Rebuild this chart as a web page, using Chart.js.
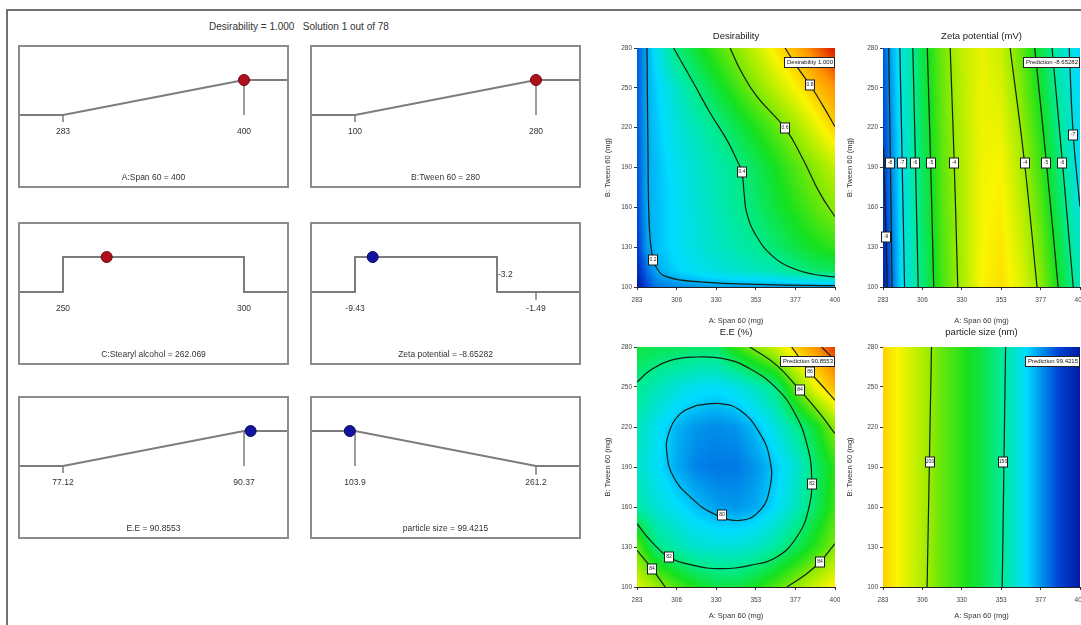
<!DOCTYPE html>
<html lang="en">
<head>
<meta charset="utf-8">
<title>Desirability ramps and contour plots</title>
<script src="https://cdn.jsdelivr.net/npm/chart.js@4.4.1/dist/chart.umd.min.js"></script>
<style>
  html, body { margin: 0; padding: 0; background: #fff; }
  body { position: relative; width: 1081px; height: 625px; overflow: hidden; font-family: 'Liberation Sans', Arial, sans-serif; }
  canvas { position: absolute; display: block; }
  .rule { position: absolute; background: #707070; }
  #solutionTitle { position: absolute; left: 99px; width: 400px; top: 21px; text-align: center; font-size: 10px; color: #333; white-space: pre; }
</style>
</head>
<body>
<div class="rule" style="left:6px;top:9px;width:2px;height:616px"></div>
<div class="rule" style="left:6px;top:9px;width:1075px;height:2px"></div>
<div id="solutionTitle">Desirability = 1.000   Solution 1 out of 78</div>

<script>
// ---- ramps (left side) ----
const rampNames = ['A:Span 60', 'B:Tween 60', 'C:Stearyl alcohol', 'Zeta potential', 'E.E', 'particle size'];
const rampGoals = ['maximize', 'maximize', 'in range', 'in range', 'maximize', 'minimize'];
const rampLow = [283, 100, 250, -9.43, 77.12, 103.9];
const rampHigh = [400, 280, 300, -1.49, 90.37, 261.2];
const rampLowText = ['283', '100', '250', '-9.43', '77.12', '103.9'];
const rampHighText = ['400', '280', '300', '-1.49', '90.37', '261.2'];
const rangeUpper = [null, null, 300, -3.2, null, null];
const rangeUpperText = ['', '', '', '-3.2', '', ''];
const solution = [400, 280, 262.069, -8.65282, 90.8553, 99.4215];
const solutionText = ['400', '280', '262.069', '-8.65282', '90.8553', '99.4215'];
const solutionDesirability = [1, 1, 1, 1, 1, 1];
const isFactor = [true, true, true, false, false, false];

// ---- contour plots (right side) ----
const spanTicks = [283, 306.4, 329.8, 353.2, 376.6, 400];
const spanTickLabels = ['283', '306', '330', '353', '377', '400'];
const tweenTicks = [100, 130, 160, 190, 220, 250, 280];
const gridX = [283, 294.7, 306.4, 318.1, 329.8, 341.5, 353.2, 364.9, 376.6, 388.3, 400];

// desirability surface, rows from B=280 (top) down to B=100
const desGridX = [283, 289, 294.7, 306.4, 318.1, 329.8, 341.5, 353.2, 364.9, 376.6, 388.3, 400];
const desGridY = [280, 250, 220, 190, 160, 130, 112, 100];
const desLevels = [
  [0.12, 0.20, 0.27, 0.41, 0.48, 0.55, 0.62, 0.69, 0.77, 0.84, 0.92, 1.00],
  [0.12, 0.20, 0.24, 0.32, 0.40, 0.47, 0.54, 0.61, 0.68, 0.75, 0.82, 0.88],
  [0.12, 0.20, 0.23, 0.29, 0.34, 0.39, 0.45, 0.51, 0.57, 0.64, 0.72, 0.80],
  [0.11, 0.20, 0.22, 0.27, 0.31, 0.35, 0.39, 0.44, 0.50, 0.56, 0.62, 0.68],
  [0.10, 0.20, 0.22, 0.26, 0.30, 0.34, 0.38, 0.42, 0.47, 0.52, 0.57, 0.62],
  [0.08, 0.19, 0.22, 0.26, 0.29, 0.32, 0.35, 0.38, 0.42, 0.46, 0.50, 0.53],
  [0.05, 0.14, 0.20, 0.24, 0.27, 0.29, 0.31, 0.33, 0.35, 0.39, 0.42, 0.44],
  [0.02, 0.10, 0.15, 0.17, 0.18, 0.19, 0.19, 0.19, 0.19, 0.19, 0.19, 0.19]
];
const desContours = [
  [[288.9, 280], [289.5, 200.7], [290.1, 150.4], [291.8, 125.2], [294.8, 113.9], [300.7, 107.6], [320.4, 103.8], [359.7, 101.8], [400, 101]],
  [[304.6, 280], [316.4, 253.6], [326.3, 230.9], [336.1, 210.8], [342, 195.7], [344.9, 186.9], [346.3, 170.5], [347.9, 155.4], [353.8, 137.8], [363.6, 122.7], [375.4, 113.9], [387.2, 109.6], [400, 107.6]],
  [[338, 280], [344, 263.6], [353.8, 243.5], [370.5, 219.6], [381.3, 195.7], [391.1, 170.5], [400, 152.9]],
  [[370.5, 280], [378, 265], [385.2, 252.3], [393.1, 236], [400, 220.8]]
];
const desLabels = [[292.6, 120, '0.2'], [344.9, 186.9, '0.4'], [370.5, 219.6, '0.6'], [385.2, 252.3, '0.8']];

// zeta potential surface
const zetaGridY = [280, 190, 100];
const zetaLevels = [
  [0.12, 0.30, 0.46, 0.59, 0.68, 0.73, 0.69, 0.58, 0.46, 0.33, 0.24],
  [0.08, 0.28, 0.43, 0.57, 0.66, 0.74, 0.75, 0.66, 0.54, 0.40, 0.26],
  [0.03, 0.27, 0.41, 0.55, 0.65, 0.75, 0.78, 0.72, 0.62, 0.48, 0.34]
];
const zetaContours = [
  [[283.2, 205.7], [284.8, 137.8], [285.6, 100]],
  [[286.4, 280], [287.4, 193.2], [288.4, 100]],
  [[293, 280], [294.4, 193.2], [295.8, 100]],
  [[300.7, 280], [302.3, 193.2], [303.9, 100]],
  [[309.3, 280], [311.3, 193.2], [313.1, 100]],
  [[322.9, 280], [325.3, 193.2], [327.4, 100]],
  [[358.5, 280], [367.1, 193.2], [374.5, 100]],
  [[373.1, 280], [380.1, 193.2], [387, 100]],
  [[383.4, 280], [389.6, 193.2], [396, 100]],
  [[393.6, 280], [396, 214.6], [400, 160.4]]
];
const zetaLabels = [[284.8, 137.8, '-9'], [287.4, 193.2, '-8'], [294.4, 193.2, '-7'], [302.3, 193.2, '-6'], [311.3, 193.2, '-5'],
  [325.3, 193.2, '-4'], [367.1, 193.2, '-4'], [380.1, 193.2, '-5'], [389.6, 193.2, '-6'], [396, 214.6, '-7']];

// entrapment efficiency surface
const eeGridY = [280, 250, 220, 190, 160, 130, 100];
const eeLevels = [
  [0.47, 0.45, 0.44, 0.43, 0.43, 0.53, 0.62, 0.70, 0.81, 0.88, 0.97],
  [0.39, 0.34, 0.30, 0.27, 0.26, 0.28, 0.33, 0.40, 0.58, 0.74, 0.84],
  [0.34, 0.27, 0.21, 0.18, 0.17, 0.18, 0.22, 0.29, 0.38, 0.48, 0.62],
  [0.32, 0.26, 0.20, 0.16, 0.15, 0.15, 0.18, 0.23, 0.30, 0.42, 0.52],
  [0.36, 0.30, 0.26, 0.22, 0.19, 0.18, 0.20, 0.25, 0.33, 0.43, 0.54],
  [0.58, 0.40, 0.35, 0.31, 0.30, 0.30, 0.32, 0.37, 0.44, 0.52, 0.61],
  [0.72, 0.64, 0.56, 0.50, 0.46, 0.46, 0.50, 0.56, 0.63, 0.70, 0.76]
];
const eeContours = [
  [[318.4, 236.25], [308.6, 230], [301.7, 215], [300.7, 200], [304.6, 182.5], [314.5, 167.5], [328.2, 155], [343.9, 150],
   [355.7, 157.5], [361.6, 175], [361.6, 195], [355.7, 215], [343.9, 232.5], [332.2, 237.5], [318.4, 236.25]],
  [[283, 253.75], [290.9, 262.5], [302.7, 270], [318.4, 272.5], [334.1, 271.25], [349.8, 263.75], [365.6, 248.75], [376.4, 230],
   [383.3, 207.5], [386.2, 182.5], [384.2, 157.5], [377.4, 137.5], [365.6, 122.5], [349.8, 116.25], [332.2, 113.75],
   [316.4, 116.25], [301.7, 122.5], [290.9, 135], [283, 147.5]],
  [[349.8, 280], [365.6, 266.25], [379.3, 247.5], [391.1, 230], [400, 215]],
  [[283, 127.5], [291.8, 113.75], [299.7, 100]],
  [[371.5, 100], [383.3, 110], [391.1, 118.75], [400, 132.5]],
  [[374.4, 280], [385.2, 261.25], [393.1, 250], [400, 240]],
  [[392.1, 280], [400, 270]]
];
const eeLabels = [[333, 154, '80'], [301.7, 122.5, '82'], [386.2, 177.5, '82'], [379.3, 247.5, '84'],
  [291.8, 113.75, '84'], [391.1, 118.75, '84'], [385.2, 261.25, '86']];

// particle size surface
const sizeGridY = [280, 100];
const sizeLevels = [
  [0.80, 0.73, 0.66, 0.58, 0.52, 0.46, 0.38, 0.28, 0.18, 0.09, 0.03],
  [0.80, 0.73, 0.66, 0.58, 0.52, 0.46, 0.38, 0.28, 0.18, 0.09, 0.03]
];
const sizeContours = [
  [[311.8, 280], [309.2, 100]],
  [[355.8, 280], [353.8, 100]]
];
const sizeLabels = [[310.8, 193.75, '200'], [354.4, 193.75, '150']];

const flagTexts = ['Desirability 1.000', 'Prediction -8.65282', 'Prediction 90.8553', 'Prediction 99.4215'];

// ---- styling ----
const FONT = "'Liberation Sans', Arial, sans-serif";
Chart.defaults.font.family = FONT;
Chart.defaults.color = '#333';

const colorStops = [
  [0.00, [0, 8, 140]],
  [0.10, [0, 70, 215]],
  [0.25, [0, 220, 255]],
  [0.38, [0, 235, 150]],
  [0.50, [20, 225, 30]],
  [0.63, [150, 235, 0]],
  [0.75, [250, 245, 0]],
  [0.88, [255, 150, 0]],
  [1.00, [220, 20, 0]]
];

function levelColor(v) {
  v = Math.max(0, Math.min(1, v));
  for (let k = 0; k < colorStops.length - 1; k++) {
    const [a, ca] = colorStops[k], [b, cb] = colorStops[k + 1];
    if (v <= b) {
      const t = (v - a) / (b - a);
      return [0, 1, 2].map(c => Math.round(ca[c] + (cb[c] - ca[c]) * t));
    }
  }
  return colorStops[colorStops.length - 1][1];
}

function locate(arr, v) {
  for (let k = 0; k < arr.length - 1; k++) {
    const t = (v - arr[k]) / (arr[k + 1] - arr[k]);
    if (t <= 1 || k === arr.length - 2) return [k, Math.max(0, Math.min(1, t))];
  }
}

function sampleGrid(xs, ys, rows, xv, yv) {
  const [i, tx] = locate(xs, xv);
  const [j, ty] = locate(ys, yv);
  const top = rows[j][i] * (1 - tx) + rows[j][i + 1] * tx;
  const bot = rows[j + 1][i] * (1 - tx) + rows[j + 1][i + 1] * tx;
  return top * (1 - ty) + bot * ty;
}

function makeCanvas(left, top, w, h) {
  const c = document.createElement('canvas');
  c.width = w; c.height = h;
  c.style.left = left + 'px'; c.style.top = top + 'px';
  c.style.width = w + 'px'; c.style.height = h + 'px';
  document.body.appendChild(c);
  return c;
}

// ---- ramp boxes ----
const RAMP_W = 271, RAMP_H = 143, RAMP_MARGIN = 45 / 181;
const RAMP_YMAX = 2, RAMP_YMIN = -73 / 35;
const RAMP_GREY = '#7c7c7c';
const rampBoxes = [[18, 45], [310, 45], [18, 222], [310, 222], [18, 396], [310, 396]];

function rampShape(i) {
  const lo = rampLow[i], hi = rampHigh[i], m = (hi - lo) * RAMP_MARGIN;
  const xmin = lo - m, xmax = hi + m, up = rangeUpper[i];
  if (rampGoals[i] === 'maximize') {
    return { xmin, xmax, path: [[xmin, 0], [lo, 0], [hi, 1], [xmax, 1]], marks: [[lo, 0, -0.2], [hi, 1, 0]] };
  }
  if (rampGoals[i] === 'minimize') {
    return { xmin, xmax, path: [[xmin, 1], [lo, 1], [hi, 0], [xmax, 0]], marks: [[lo, 1, 0], [hi, 0, -0.25]] };
  }
  return { xmin, xmax, path: [[xmin, 0], [lo, 0], [lo, 1], [up, 1], [up, 0], [xmax, 0]], marks: up < hi ? [[hi, 0, -0.22]] : [] };
}

function rampTextPlugin(i) {
  return {
    id: 'rampText' + i,
    afterDraw(chart) {
      const { ctx, scales: { x, y } } = chart;
      ctx.save();
      ctx.strokeStyle = '#8c8c8c';
      ctx.lineWidth = 2;
      ctx.strokeRect(1, 1, chart.width - 2, chart.height - 2);
      ctx.fillStyle = '#333';
      ctx.font = '8.5px ' + FONT;
      ctx.textAlign = 'center';
      ctx.textBaseline = 'middle';
      const ty = y.getPixelForValue(0) + 17;
      ctx.fillText(rampLowText[i], x.getPixelForValue(rampLow[i]), ty);
      ctx.fillText(rampHighText[i], x.getPixelForValue(rampHigh[i]), ty);
      if (rangeUpper[i] !== null && rangeUpper[i] < rampHigh[i]) {
        ctx.textAlign = 'left';
        ctx.fillText(rangeUpperText[i], x.getPixelForValue(rangeUpper[i]) + 1, y.getPixelForValue(0.5));
        ctx.textAlign = 'center';
      }
      ctx.fillText(rampNames[i] + ' = ' + solutionText[i], chart.width / 2, chart.height - 10);
      ctx.restore();
    }
  };
}

rampNames.forEach((name, i) => {
  const [left, top] = rampBoxes[i];
  const canvas = makeCanvas(left, top, RAMP_W, RAMP_H);
  const shape = rampShape(i);
  const dotFill = isFactor[i] ? '#b0101c' : '#12139e';
  const dotEdge = isFactor[i] ? '#6e0810' : '#0a0a60';
  new Chart(canvas, {
    type: 'scatter',
    data: {
      datasets: [
        { data: [{ x: solution[i], y: solutionDesirability[i] }], pointRadius: 5.5, pointBackgroundColor: dotFill,
          pointBorderColor: dotEdge, pointBorderWidth: 1, clip: false },
        { data: shape.path.map(([x, y]) => ({ x, y })), showLine: true, borderColor: RAMP_GREY, borderWidth: 2, pointRadius: 0 },
        ...shape.marks.map(([x, y0, y1]) => ({ data: [{ x, y: y0 }, { x, y: y1 }], showLine: true,
          borderColor: RAMP_GREY, borderWidth: 1.5, pointRadius: 0 }))
      ]
    },
    options: {
      responsive: false, animation: false, events: [],
      layout: { padding: 0, autoPadding: false },
      plugins: { legend: { display: false }, tooltip: { enabled: false } },
      scales: {
        x: { type: 'linear', min: shape.xmin, max: shape.xmax, display: false },
        y: { type: 'linear', min: RAMP_YMIN, max: RAMP_YMAX, display: false }
      }
    },
    plugins: [rampTextPlugin(i)]
  });
});

// ---- contour charts ----
function contourChart(spec, L) {
  const canvas = makeCanvas(L.left, L.top, L.width, L.height);
  const heat = {
    id: 'heat',
    beforeDatasetsDraw(chart) {
      const { ctx, chartArea: a, scales: { x, y } } = chart;
      const w = Math.round(a.right - a.left), h = Math.round(a.bottom - a.top);
      const off = document.createElement('canvas');
      off.width = w; off.height = h;
      const octx = off.getContext('2d');
      const img = octx.createImageData(w, h);
      for (let j = 0; j < h; j++) {
        const yv = y.getValueForPixel(a.top + j + 0.5);
        for (let i = 0; i < w; i++) {
          const xv = x.getValueForPixel(a.left + i + 0.5);
          const c = levelColor(sampleGrid(spec.gx, spec.gy, spec.levels, xv, yv));
          const k = (j * w + i) * 4;
          img.data[k] = c[0]; img.data[k + 1] = c[1]; img.data[k + 2] = c[2]; img.data[k + 3] = 255;
        }
      }
      octx.putImageData(img, 0, 0);
      ctx.drawImage(off, a.left, a.top);
    }
  };
  const marks = {
    id: 'contourMarks',
    afterDatasetsDraw(chart) {
      const { ctx, scales: { x, y } } = chart;
      ctx.save();
      ctx.font = '5px ' + FONT;
      ctx.textAlign = 'center';
      ctx.textBaseline = 'middle';
      ctx.lineWidth = 1;
      spec.labels.forEach(([lx, ly, t]) => {
        const px = Math.round(x.getPixelForValue(lx)), py = Math.round(y.getPixelForValue(ly));
        ctx.fillStyle = '#fff';
        ctx.fillRect(px - 4.5, py - 5, 9, 10);
        ctx.strokeStyle = '#1a1a1a';
        ctx.strokeRect(px - 4.5, py - 5, 9, 10);
        ctx.fillStyle = '#222';
        ctx.fillText(t, px, py);
      });
      // prediction flag anchored at the optimum
      ctx.font = '6px ' + FONT;
      const fx = x.getPixelForValue(solution[0]), fy = y.getPixelForValue(solution[1]);
      const tw = ctx.measureText(spec.flag).width + 5;
      ctx.fillStyle = '#fff';
      ctx.fillRect(Math.round(fx - tw) + 0.5, Math.round(fy + 9) + 0.5, Math.round(tw) - 1, 10);
      ctx.strokeStyle = '#222';
      ctx.strokeRect(Math.round(fx - tw) + 0.5, Math.round(fy + 9) + 0.5, Math.round(tw) - 1, 10);
      ctx.fillStyle = '#111';
      ctx.textAlign = 'left';
      ctx.fillText(spec.flag, Math.round(fx - tw) + 3, Math.round(fy + 9) + 5.5);
      ctx.restore();
    }
  };
  const tickFont = { size: 6.5, family: FONT };
  return new Chart(canvas, {
    type: 'scatter',
    data: {
      datasets: spec.lines.map(pts => ({
        data: pts.map(([x, y]) => ({ x, y })), showLine: true, borderColor: '#142014',
        borderWidth: 1.2, pointRadius: 0, tension: 0.45
      }))
    },
    options: {
      responsive: false, animation: false, events: [],
      layout: { padding: { left: 0, right: L.padRight, top: 0, bottom: 0 }, autoPadding: false },
      plugins: {
        legend: { display: false }, tooltip: { enabled: false },
        title: { display: true, text: spec.title, fullSize: false, color: '#222',
          font: { size: 9.5, family: FONT, weight: 'normal' }, padding: { top: 0, bottom: L.titleGap } }
      },
      scales: {
        x: {
          type: 'linear', min: spanTicks[0], max: spanTicks[spanTicks.length - 1], z: 1,
          afterBuildTicks: s => { s.ticks = spanTicks.map(v => ({ value: v })); },
          afterFit: s => { s.height = L.xAxisH; },
          ticks: { callback: (v, i) => spanTickLabels[i], font: tickFont, color: '#444', padding: 6, maxRotation: 0, autoSkip: false },
          grid: { drawOnChartArea: false, drawTicks: true, tickLength: 3, color: '#333' },
          border: { display: true, color: '#222', width: 1 },
          title: { display: true, text: 'A: Span 60 (mg)', color: '#333', font: { size: 7.5, family: FONT }, padding: { top: 0, bottom: 0 } }
        },
        y: {
          type: 'linear', min: tweenTicks[0], max: tweenTicks[tweenTicks.length - 1], z: 1,
          afterBuildTicks: s => { s.ticks = tweenTicks.map(v => ({ value: v })); },
          afterFit: s => { s.width = L.yAxisW; },
          ticks: { callback: v => String(v), font: tickFont, color: '#444', padding: 2, autoSkip: false },
          grid: { drawOnChartArea: false, drawTicks: true, tickLength: 3, color: '#333' },
          border: { display: true, color: '#222', width: 1 },
          title: { display: true, text: 'B: Tween 60 (mg)', color: '#333', font: { size: 7.5, family: FONT }, padding: { top: L.yTitlePad, bottom: 0 } }
        }
      }
    },
    plugins: [heat, marks]
  });
}

contourChart(
  { title: 'Desirability', gx: desGridX, gy: desGridY, levels: desLevels, lines: desContours, labels: desLabels, flag: flagTexts[0] },
  { left: 598, top: 31, width: 252, height: 294, yAxisW: 39, xAxisH: 38, padRight: 15, titleGap: 5.6, yTitlePad: 5.5 });
contourChart(
  { title: 'Zeta potential (mV)', gx: gridX, gy: zetaGridY, levels: zetaLevels, lines: zetaContours, labels: zetaLabels, flag: flagTexts[1] },
  { left: 844, top: 31, width: 252, height: 294, yAxisW: 39, xAxisH: 38, padRight: 16, titleGap: 5.6, yTitlePad: 1.5 });
contourChart(
  { title: 'E.E (%)', gx: gridX, gy: eeGridY, levels: eeLevels, lines: eeContours, labels: eeLabels, flag: flagTexts[2] },
  { left: 598, top: 327, width: 252, height: 293, yAxisW: 39, xAxisH: 33, padRight: 15, titleGap: 8.6, yTitlePad: 5.5 });
contourChart(
  { title: 'particle size (nm)', gx: gridX, gy: sizeGridY, levels: sizeLevels, lines: sizeContours, labels: sizeLabels, flag: flagTexts[3] },
  { left: 844, top: 327, width: 252, height: 293, yAxisW: 39, xAxisH: 33, padRight: 16, titleGap: 8.6, yTitlePad: 1.5 });
</script>
</body>
</html>
